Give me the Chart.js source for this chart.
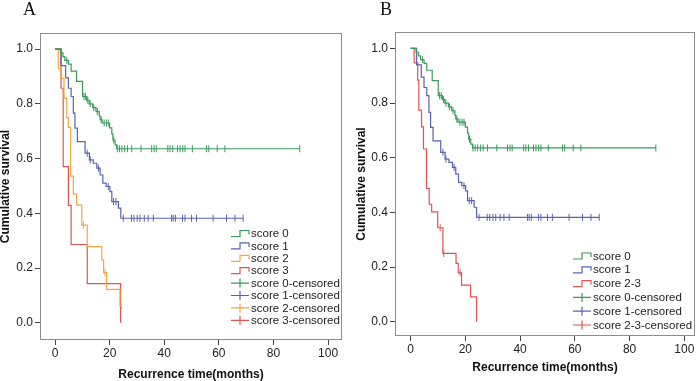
<!DOCTYPE html>
<html>
<head>
<meta charset="utf-8">
<script src="https://cdn.jsdelivr.net/npm/chart.js@4.4.1/dist/chart.umd.min.js"></script>
<style>
  body { margin: 0; background: #fff; }
  #wrap { position: relative; width: 700px; height: 381px; overflow: hidden; }
  .panel { position: absolute; top: 0; width: 350px; height: 381px; }
  .tag { position: absolute; font-family: "Liberation Serif", "Times New Roman", serif; font-size: 18px; line-height: 18px; color: #111; }
</style>
</head>
<body>
<div id="wrap">
  <div class="panel" style="left:0">
    <canvas id="chartA" width="350" height="381"></canvas>
    <div class="tag" style="left:23px;top:0px">A</div>
  </div>
  <div class="panel" style="left:350px">
    <canvas id="chartB" width="350" height="381"></canvas>
    <div class="tag" style="left:30px;top:0px">B</div>
  </div>
</div>
<script>
const yTicks = [0, 0.2, 0.4, 0.6, 0.8, 1.0];
const xTicks = [0, 20, 40, 60, 80, 100];

// score 0 (same patients in both panels)
const score0Time = [0, 2.0, 2.9, 3.6, 4.9, 5.9, 7.9, 10.1, 11.6, 12.5, 13.8, 15.0, 16.2, 16.5, 17.3, 20.0, 20.8, 21.2, 22.0, 22.6, 89.6];
const score0Surv = [1, 0.986, 0.973, 0.959, 0.945, 0.92, 0.882, 0.827, 0.813, 0.80, 0.786, 0.772, 0.755, 0.742, 0.73, 0.712, 0.69, 0.668, 0.65, 0.636, 0.636];
const score0Censor = [4.3, 10.6, 11.2, 12.0, 12.9, 14.2, 15.5, 16.9, 18.0, 18.8, 19.5, 21.5, 22.8, 23.6, 24.5, 25.5, 26.5, 28.1, 31.5, 35.4, 36.3, 37.1, 41.3, 42.1, 43.1, 44.9, 45.8, 46.8, 47.6, 50.3, 55.5, 56.3, 59.4, 62.2, 89.6];

// score 1
const score1Time = [0, 2.2, 3.9, 4.9, 5.9, 6.7, 7.3, 8.2, 11.0, 12.6, 14.0, 15.3, 16.5, 17.5, 18.7, 20.1, 20.8, 23.2, 24.1, 68.9];
const score1Surv = [1, 0.94, 0.895, 0.857, 0.827, 0.766, 0.711, 0.662, 0.62, 0.595, 0.583, 0.565, 0.54, 0.51, 0.498, 0.479, 0.443, 0.419, 0.382, 0.382];
const score1Censor = [11.8, 12.9, 15.9, 19.5, 21.4, 22.3, 25.0, 28.0, 28.9, 30.1, 31.1, 32.7, 34.1, 36.0, 42.7, 43.3, 44.1, 46.7, 47.6, 50.0, 51.8, 57.9, 62.8, 65.9, 68.9];

// score 2 (panel A)
const score2Time = [0, 1.2, 2.2, 3.3, 4.3, 4.9, 5.7, 6.7, 7.9, 9.8, 11.8, 17.1, 17.8, 18.9, 23.8, 24.2];
const score2Surv = [1, 0.929, 0.893, 0.821, 0.75, 0.714, 0.536, 0.47, 0.43, 0.357, 0.278, 0.23, 0.183, 0.122, 0.061, 0.061];
const score2Censor = [10.4, 18.3, 24.2];

// score 3 (panel A)
const score3Time = [0, 2.2, 3.0, 4.9, 5.9, 11.8, 24.0];
const score3Surv = [1, 0.857, 0.571, 0.429, 0.286, 0.143, 0];
const score3Censor = [];

// score 2-3 (panel B)
const score23Time = [0, 1.3, 2.6, 3.0, 4.0, 4.7, 5.8, 6.8, 7.7, 9.9, 11.8, 16.6, 17.4, 18.6, 21.9, 24.1];
const score23Surv = [1, 0.947, 0.884, 0.774, 0.713, 0.632, 0.488, 0.43, 0.402, 0.344, 0.25, 0.214, 0.179, 0.134, 0.091, 0];
const score23Censor = [10.8, 12.1, 18.1];

const GREEN = "#3a9a5c";
const BLUE = "#5a63b0";
const ORANGE = "#f0a840";
const RED = "#e05252";
const FONT = '"Liberation Sans", Arial, sans-serif';

function survAt(times, surv, t) {
  let s = surv[0];
  for (let i = 0; i < times.length; i++) {
    if (times[i] <= t) s = surv[i];
  }
  return s;
}

function buildDatasets(groups) {
  const lines = groups.map(g => ({
    label: g.label,
    data: g.time.map((t, i) => ({ x: t, y: g.surv[i] })),
    borderColor: g.color,
    backgroundColor: g.color,
    borderWidth: 1.2,
    stepped: true,
    pointRadius: 0,
    fill: false,
  }));
  const marks = groups.map(g => ({
    label: g.label + "-censored",
    data: g.censor.map(t => ({ x: t, y: survAt(g.time, g.surv, t) })),
    borderColor: g.color,
    backgroundColor: g.color,
    showLine: false,
    pointStyle: "line",
    rotation: 90,
    pointRadius: 3.5,
    pointBorderWidth: 1,
  }));
  return lines.concat(marks);
}

const frame = {
  id: "frame",
  beforeDatasetsDraw(chart) {
    const { ctx, chartArea: a } = chart;
    ctx.save();
    ctx.strokeStyle = "#8c8c8c";
    ctx.lineWidth = 1;
    ctx.strokeRect(a.left + 0.5, a.top + 0.5, a.right - a.left - 1, a.bottom - a.top - 1);
    ctx.restore();
  },
};

const insideLegend = {
  id: "insideLegend",
  afterDraw(chart, args, opts) {
    const ctx = chart.ctx;
    ctx.save();
    ctx.font = "11.5px " + FONT;
    ctx.textBaseline = "middle";
    chart.data.datasets.forEach((ds, i) => {
      const x = opts.x;
      const y = opts.y + i * opts.gap;
      ctx.strokeStyle = ds.borderColor;
      ctx.lineWidth = 1.2;
      ctx.beginPath();
      if (ds.showLine === false) {
        ctx.moveTo(x, y); ctx.lineTo(x + 18, y);
        ctx.moveTo(x + 9, y - 4.5); ctx.lineTo(x + 9, y + 4.5);
      } else {
        ctx.moveTo(x, y + 3); ctx.lineTo(x + 9, y + 3);
        ctx.lineTo(x + 9, y - 3); ctx.lineTo(x + 18, y - 3);
        ctx.lineTo(x + 18, y + 1);
      }
      ctx.stroke();
      ctx.fillStyle = "#222";
      ctx.fillText(ds.label, x + 20, y + 0.5);
    });
    ctx.restore();
  },
};

function makeChart(id, groups, p) {
  return new Chart(document.getElementById(id), {
    type: "line",
    data: { datasets: buildDatasets(groups) },
    plugins: [frame, insideLegend],
    options: {
      responsive: false,
      animation: false,
      layout: { padding: { left: 0, top: p.top, right: p.right, bottom: 0 } },
      plugins: {
        legend: { display: false },
        tooltip: { enabled: false },
        insideLegend: p.legend,
      },
      scales: {
        x: {
          type: "linear",
          min: p.xMin,
          max: p.xMax,
          afterBuildTicks: s => { s.ticks = xTicks.map(v => ({ value: v })); },
          afterFit: s => { s.height = p.xHeight; },
          grid: { drawOnChartArea: false, tickLength: 5, color: "#444" },
          border: { display: false },
          ticks: { color: "#222", font: { size: 12, family: FONT }, padding: 1, maxRotation: 0 },
          title: {
            display: true,
            text: "Recurrence time(months)",
            color: "#111",
            font: { size: 12, weight: "bold", family: FONT, lineHeight: 1 },
            padding: { top: 0, bottom: p.xTitlePad },
          },
        },
        y: {
          min: p.yMin,
          max: p.yMax,
          afterBuildTicks: s => { s.ticks = yTicks.map(v => ({ value: v })); },
          afterFit: s => { s.width = p.yWidth; },
          grid: { drawOnChartArea: false, tickLength: 5, color: "#444" },
          border: { display: false },
          ticks: { color: "#222", font: { size: 12, family: FONT }, padding: 2, callback: v => v.toFixed(1) },
          title: {
            display: true,
            text: "Cumulative survival",
            color: "#111",
            font: { size: 12, weight: "bold", family: FONT, lineHeight: 1 },
            padding: { top: p.yTitlePad, bottom: 0 },
          },
        },
      },
    },
  });
}

makeChart("chartA", [
  { label: "score 0", time: score0Time, surv: score0Surv, censor: score0Censor, color: GREEN },
  { label: "score 1", time: score1Time, surv: score1Surv, censor: score1Censor, color: BLUE },
  { label: "score 2", time: score2Time, surv: score2Surv, censor: score2Censor, color: ORANGE },
  { label: "score 3", time: score3Time, surv: score3Surv, censor: score3Censor, color: RED },
], {
  top: 33, right: 8, yWidth: 40, xHeight: 41,
  xMin: -5.5, xMax: 105.1, yMin: -0.063, yMax: 1.059,
  xTitlePad: 0, yTitlePad: 0,
  legend: { x: 231, y: 233.5, gap: 12.4 },
});

makeChart("chartB", [
  { label: "score 0", time: score0Time, surv: score0Surv, censor: score0Censor, color: GREEN },
  { label: "score 1", time: score1Time, surv: score1Surv, censor: score1Censor, color: BLUE },
  { label: "score 2-3", time: score23Time, surv: score23Surv, censor: score23Censor, color: RED },
], {
  top: 32, right: 5, yWidth: 45, xHeight: 45,
  xMin: -5.7, xMax: 103.9, yMin: -0.052, yMax: 1.06,
  xTitlePad: 7, yTitlePad: 6,
  legend: { x: 223, y: 256, gap: 13.8 },
});
</script>
</body>
</html>
